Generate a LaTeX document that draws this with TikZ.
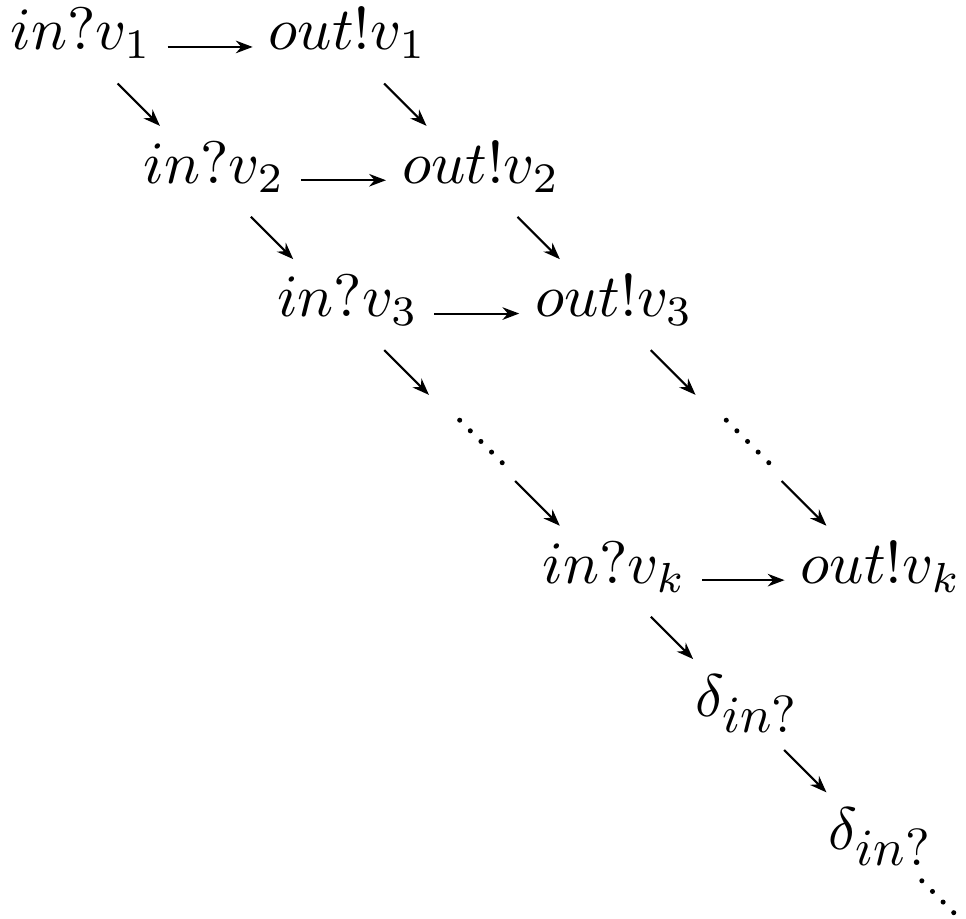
\documentclass[tikz,border=0pt]{standalone}
\usetikzlibrary{arrows.meta}
\begin{document}
\begin{tikzpicture}[x=22.2pt,y=-22.2pt,line width=0.35pt,
  >={Stealth[length=2.8pt,width=2.1pt]},
  st/.style={anchor=base, text height=6.9pt, text depth=5.9pt, inner xsep=2.5pt, inner ysep=1pt},
  diag/.style={->, shorten <=-2.1pt, shorten >=2.1pt}]
\useasboundingbox (-0.608,-0.375) rectangle (6.639,6.519);
\node[st] (in1) at (0,0) {$in?v_1$};
\node[st] (out1) at (2,0) {$out!v_1$};
\node[st] (in2) at (1,1) {$in?v_2$};
\node[st] (out2) at (3,1) {$out!v_2$};
\node[st] (in3) at (2,2) {$in?v_3$};
\node[st] (out3) at (4,2) {$out!v_3$};
\node[st, minimum width=14pt] (indots) at (3,3) {};
\node[st, minimum width=14pt] (outdots) at (5,3) {};
\node[st] (ink) at (4,4) {$in?v_k$};
\node[st] (outk) at (6,4) {$out!v_k$};
\node[st] (dl1) at (5,5) {$\delta_{\scalebox{0.87}{$in?$}}$};
\node[st] (dl2) at (6,6) {$\delta_{\scalebox{0.87}{$in?$}}$};

% dots standing for the rows between 3 and k
\foreach \k in {0,...,4} {
  \fill ([shift={(\k*1.77pt-3.54pt,4.44pt-\k*1.77pt)}]indots.center) circle (0.42pt);
  \fill ([shift={(\k*1.77pt-3.54pt,4.44pt-\k*1.77pt)}]outdots.center) circle (0.42pt);
}
% and the ones trailing off after the last delta
\foreach \k in {0,...,3}
  \fill ([shift={(6.83pt+\k*1.77pt,-5.17pt-\k*1.77pt)}]dl2.base) circle (0.42pt);

\draw[->] (in1) -- (out1);
\draw[->] (in2) -- (out2);
\draw[->] (in3) -- (out3);
\draw[->] (ink) -- (outk);

\draw[diag] (in1) -- (in2);
\draw[diag] (in2) -- (in3);
\draw[diag] (in3) -- (indots);
\draw[diag] (indots) -- (ink);
\draw[diag] (out1) -- (out2);
\draw[diag] (out2) -- (out3);
\draw[diag] (out3) -- (outdots);
\draw[diag] (outdots) -- (outk);
\draw[diag] (ink) -- (dl1);
\draw[diag] (dl1) -- (dl2);
\end{tikzpicture}
\end{document}
